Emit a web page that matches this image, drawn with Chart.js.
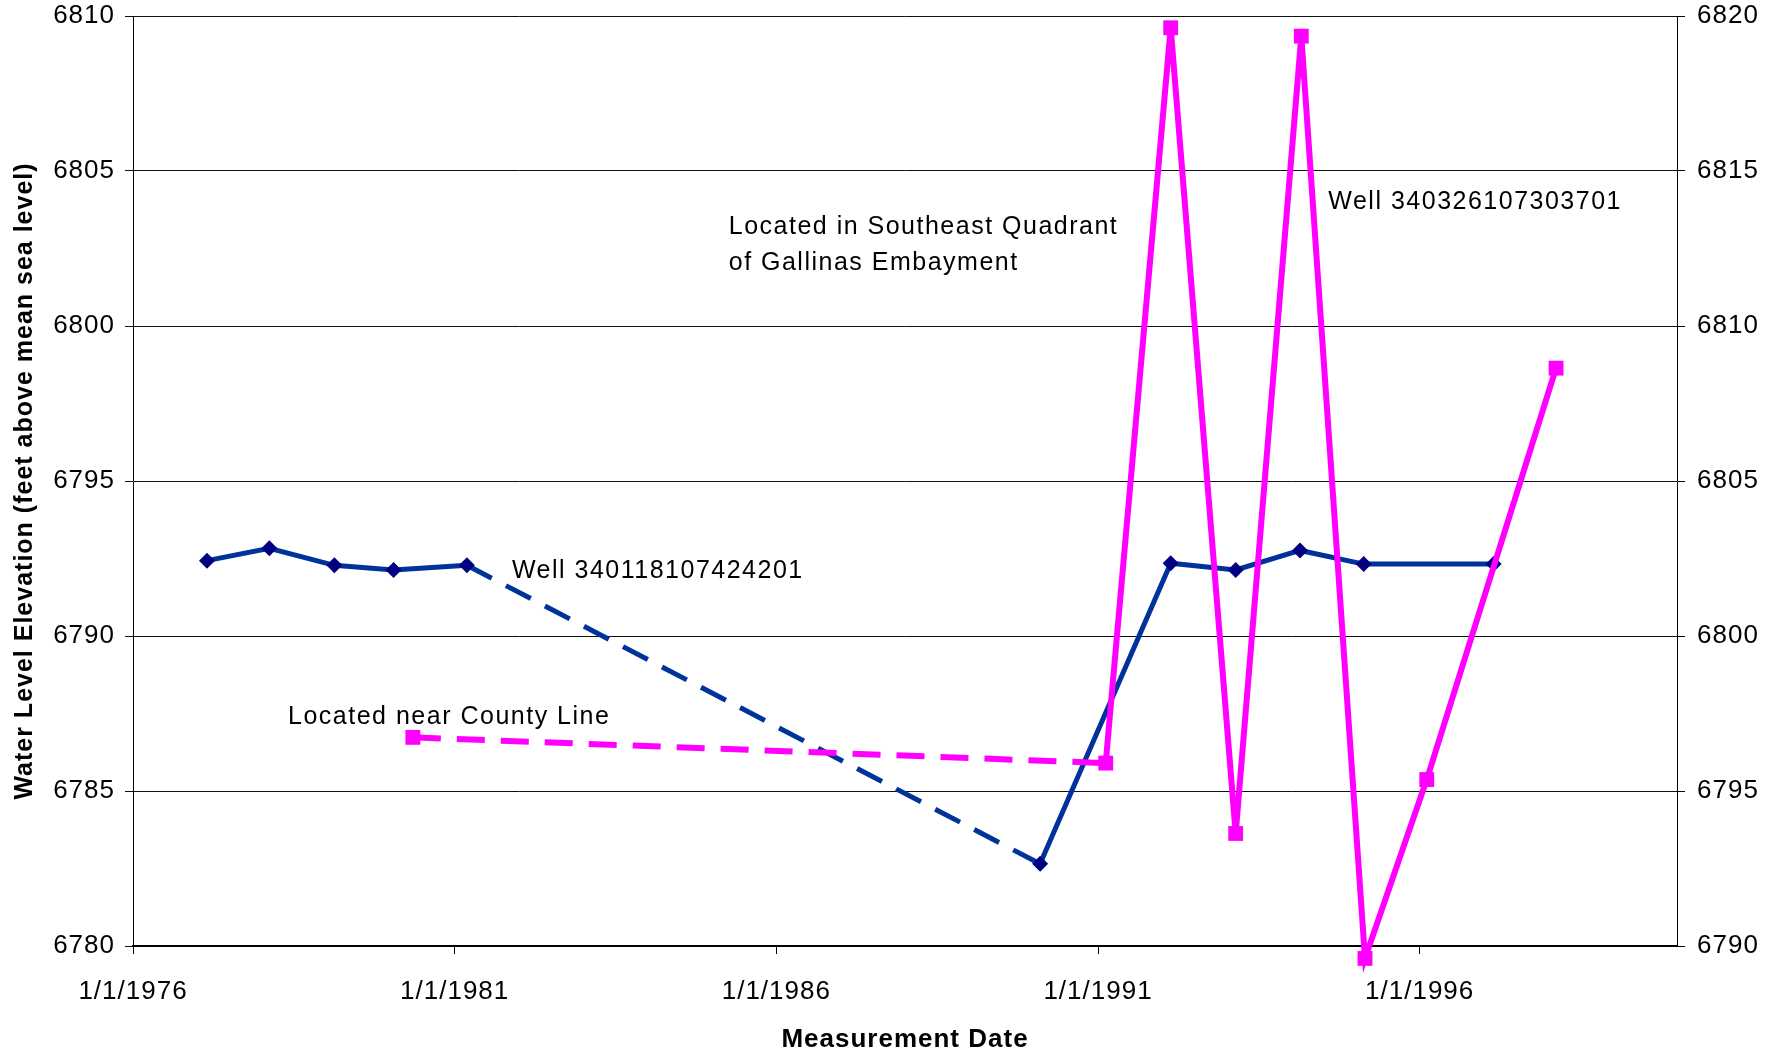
<!DOCTYPE html>
<html>
<head>
<meta charset="utf-8">
<script src="https://cdn.jsdelivr.net/npm/chart.js@4.4.1/dist/chart.umd.min.js"></script>
<style>
  body { margin: 0; background: #fff; }
  canvas { display: block; }
</style>
</head>
<body>
<canvas id="myChart" width="1782" height="1055"></canvas>
<script>
// dates as decimal years
var wellADates = [1977.15, 1978.12, 1979.13, 1980.05, 1981.19, 1990.10, 1992.13, 1993.14, 1994.14, 1995.13, 1997.15];
var wellALevels = [6792.43, 6792.83, 6792.28, 6792.13, 6792.28, 6782.65, 6792.35, 6792.13, 6792.76, 6792.32, 6792.32];

var wellBDates = [1980.35, 1991.12, 1992.13, 1993.14, 1994.16, 1995.15, 1996.11, 1998.12];
var wellBLevels = [6796.73, 6795.9, 6819.62, 6793.63, 6819.35, 6789.6, 6795.37, 6808.64];

var leftTicks = [6780, 6785, 6790, 6795, 6800, 6805, 6810];
var rightTicks = [6790, 6795, 6800, 6805, 6810, 6815, 6820];
var dateTicks = [1976, 1981, 1986, 1991, 1996];

// text notes, placed in left-axis data units (x = year, y = baseline)
var notes = [
	{ text: "Well 340118107424201", x: 1981.89, y: 6791.87 },
	{ text: "Located near County Line", x: 1978.41, y: 6787.16 },
	{ text: "Located in Southeast Quadrant", x: 1985.26, y: 6802.97 },
	{ text: "of Gallinas Embayment", x: 1985.26, y: 6801.81 },
	{ text: "Well 340326107303701", x: 1994.58, y: 6803.77 }
];

var FONT = "'Liberation Sans', Arial, sans-serif";

function toPoints(xs, ys) {
	var out = [];
	for (let i = 0; i < xs.length; i++) {
		out.push({ x: xs[i], y: ys[i] });
	}
	return out;
}

var spacing = {
	id: "spacing",
	beforeUpdate: function(chart) { chart.ctx.letterSpacing = "1px"; },
	beforeDraw: function(chart) { chart.ctx.letterSpacing = "1px"; }
};

var noteText = {
	id: "noteText",
	afterDatasetsDraw: function(chart) {
		var ctx = chart.ctx;
		var sx = chart.scales.x;
		var sy = chart.scales.y;
		var a = chart.chartArea;

		// markers that fall just outside the plot area are skipped by Chart.js, draw them here
		var whole = { left: 0, top: 0, right: chart.width, bottom: chart.height };
		chart.data.datasets.forEach(function(ds, i) {
			chart.getDatasetMeta(i).data.forEach(function(pt) {
				if (pt.y > a.bottom || pt.y < a.top) pt.draw(ctx, whole);
			});
		});

		ctx.save();
		ctx.letterSpacing = "1.5px";
		ctx.font = "25px " + FONT;
		ctx.fillStyle = "#000";
		ctx.textAlign = "left";
		ctx.textBaseline = "alphabetic";
		notes.forEach(function(n) {
			ctx.fillText(n.text, sx.getPixelForValue(n.x), sy.getPixelForValue(n.y));
		});
		ctx.restore();
	}
};

function plain(v) { return String(v); }

function fitSide(w) {
	return function(s) {
		s.width = w;
		s.paddingTop = 0;
		s.paddingBottom = 0;
	};
}

var ctx = document.getElementById("myChart").getContext("2d");
var chart = new Chart(ctx, {
	type: "line",
	data: {
		datasets: [{
			label: "Well 340118107424201",
			data: toPoints(wellADates, wellALevels),
			yAxisID: "y",
			borderColor: "#003399",
			borderWidth: 5,
			pointStyle: "rectRot",
			pointRadius: 8,
			pointBackgroundColor: "#000080",
			pointBorderColor: "#000080",
			pointBorderWidth: 0,
			tension: 0,
			clip: false,
			order: 1,
			segment: {
				borderDash: function(c) { return c.p0DataIndex === 4 ? [28, 16] : undefined; }
			}
		}, {
			label: "Well 340326107303701",
			data: toPoints(wellBDates, wellBLevels),
			yAxisID: "y2",
			borderColor: "#ff00ff",
			borderWidth: 6,
			pointStyle: "rect",
			pointRadius: 10.5,
			pointBackgroundColor: "#ff00ff",
			pointBorderColor: "#ff00ff",
			pointBorderWidth: 0,
			tension: 0,
			clip: false,
			order: 0,
			segment: {
				borderDash: function(c) { return c.p0DataIndex === 0 ? [28, 16] : undefined; }
			}
		}]
	},
	options: {
		responsive: false,
		animation: false,
		layout: { padding: { top: 16, right: 0, bottom: 0, left: 0 } },
		plugins: {
			legend: { display: false },
			tooltip: { enabled: false }
		},
		scales: {
			x: {
				type: "linear",
				min: 1976,
				max: 2000,
				afterBuildTicks: function(s) {
					s.ticks = dateTicks.map(function(v) { return { value: v }; });
				},
				afterFit: function(s) { s.height = 109; },
				ticks: {
					color: "#000",
					font: { family: FONT, size: 26 },
					padding: 22,
					maxRotation: 0,
					autoSkip: false,
					callback: function(v) { return "1/1/" + v; }
				},
				grid: { drawOnChartArea: false, drawTicks: true, tickLength: 8, color: "#000" },
				border: { color: "#000", width: 2 },
				title: {
					display: true,
					text: "Measurement Date",
					color: "#000",
					font: { family: FONT, size: 26, weight: "bold" },
					padding: { top: 0, bottom: 0 }
				}
			},
			y: {
				position: "left",
				min: 6780,
				max: 6810,
				afterBuildTicks: function(s) {
					s.ticks = leftTicks.map(function(v) { return { value: v }; });
				},
				afterFit: fitSide(133),
				ticks: {
					color: "#000",
					font: { family: FONT, size: 26 },
					padding: 10,
					callback: plain
				},
				grid: { color: "#111", lineWidth: 1, tickLength: 8 },
				border: { color: "#000", width: 1 },
				title: {
					display: true,
					text: "Water Level Elevation (feet above mean sea level)",
					color: "#000",
					font: { family: FONT, size: 25, weight: "bold" },
					padding: { top: 10, bottom: 0 }
				}
			},
			y2: {
				position: "right",
				min: 6790,
				max: 6820,
				afterBuildTicks: function(s) {
					s.ticks = rightTicks.map(function(v) { return { value: v }; });
				},
				afterFit: fitSide(105),
				ticks: {
					color: "#000",
					font: { family: FONT, size: 26 },
					padding: 12,
					callback: plain
				},
				grid: { drawOnChartArea: false, tickLength: 8, color: "#000" },
				border: { color: "#000", width: 1 }
			}
		}
	},
	plugins: [spacing, noteText]
});
</script>
</body>
</html>
